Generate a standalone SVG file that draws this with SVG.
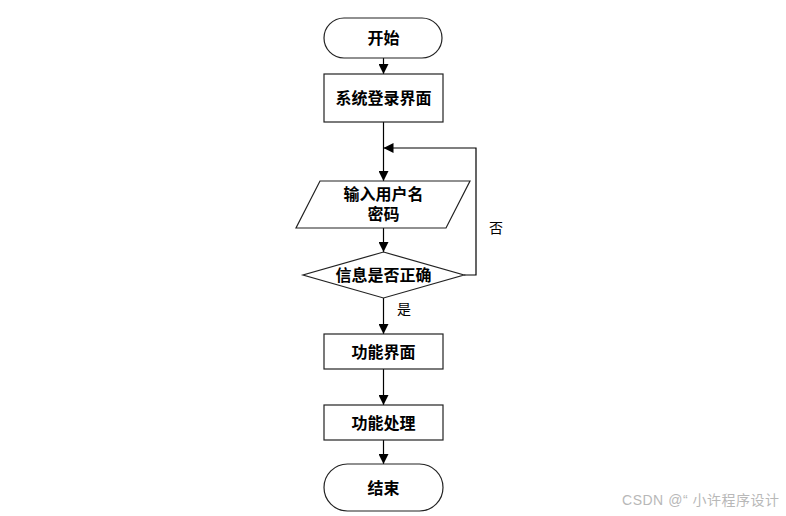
<svg xmlns="http://www.w3.org/2000/svg" width="786" height="516" viewBox="0 0 786 516">
<style>
.shape{fill:#fff;stroke:#222;stroke-width:1.2}
.line{fill:none;stroke:#000;stroke-width:1.2}
.t{font-family:"Liberation Sans","Noto Sans CJK SC",sans-serif;font-size:16px;font-weight:bold;fill:#000;text-anchor:middle;dominant-baseline:central}
.lbl{font-family:"Liberation Sans","Noto Sans CJK SC",sans-serif;font-size:14px;fill:#000;text-anchor:middle;dominant-baseline:central}
.wm{font-family:"Liberation Sans","Noto Sans CJK SC",sans-serif;font-size:14px;fill:#b8b8b8}
</style>
<defs>
<marker id="arr" viewBox="0 0 10 10" refX="10" refY="5" markerWidth="10" markerHeight="10" markerUnits="userSpaceOnUse" orient="auto">
<path d="M0,0 L10,5 L0,10 Z" fill="#000"/>
</marker>
</defs>
<rect width="786" height="516" fill="#fff"/>
<g id="connectors">
<line class="line" x1="383.5" y1="58" x2="383.5" y2="74" marker-end="url(#arr)"/>
<line class="line" x1="383.5" y1="122" x2="383.5" y2="181" marker-end="url(#arr)"/>
<polyline class="line" points="464,275 476,275 476,148 383.5,148" marker-end="url(#arr)"/>
<line class="line" x1="383.5" y1="228" x2="383.5" y2="252" marker-end="url(#arr)"/>
<line class="line" x1="383.5" y1="298" x2="383.5" y2="334" marker-end="url(#arr)"/>
<line class="line" x1="383.5" y1="369" x2="383.5" y2="405" marker-end="url(#arr)"/>
<line class="line" x1="383.5" y1="440" x2="383.5" y2="464" marker-end="url(#arr)"/>
<text class="lbl" x="496" y="228">否</text>
<text class="lbl" x="404" y="309">是</text>
</g>
<g id="start">
<rect class="shape" x="324" y="18" width="118" height="40" rx="20" ry="20"/>
<text class="t" x="383.5" y="38">开始</text>
</g>
<g id="login">
<rect class="shape" x="324" y="74" width="119" height="48"/>
<text class="t" x="383.5" y="98">系统登录界面</text>
</g>
<g id="input">
<polygon class="shape" points="320,181 470,181 446,228 296,228"/>
<text class="t" x="383.5" y="194">输入用户名</text>
<text class="t" x="383.5" y="214">密码</text>
</g>
<g id="check">
<polygon class="shape" points="383.5,252 464,275 383.5,298 303,275"/>
<text class="t" x="383.5" y="275">信息是否正确</text>
</g>
<g id="func">
<rect class="shape" x="324" y="334" width="119" height="35"/>
<text class="t" x="383.5" y="352">功能界面</text>
</g>
<g id="process">
<rect class="shape" x="324" y="405" width="119" height="35"/>
<text class="t" x="383.5" y="423">功能处理</text>
</g>
<g id="end">
<rect class="shape" x="324" y="464" width="119" height="47" rx="23.5" ry="23.5"/>
<text class="t" x="383.5" y="488">结束</text>
</g>
<text class="wm" x="622" y="505" textLength="157" lengthAdjust="spacing">CSDN @“ 小许程序设计</text>
</svg>
